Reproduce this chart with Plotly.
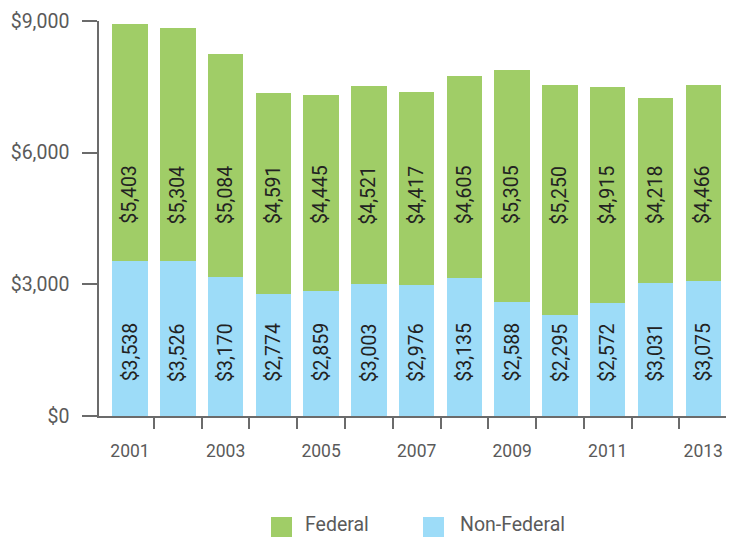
import plotly.graph_objects as go

years = list(range(2001, 2014))
federal = [5403, 5304, 5084, 4591, 4445, 4521, 4417, 4605, 5305, 5250, 4915, 4218, 4466]
non_federal = [3538, 3526, 3170, 2774, 2859, 3003, 2976, 3135, 2588, 2295, 2572, 3031, 3075]
tick_years = [2001, 2003, 2005, 2007, 2009, 2011, 2013]
y_ticks = [0, 3000, 6000, 9000]

GREEN = "#a0cd67"
BLUE = "#9ddcf8"
FONT = "Roboto, Liberation Sans, Arial, sans-serif"
AXIS = "#6b6b6b"
LABEL = "#5a5a5a"

fig = go.Figure()
fig.add_bar(x=years, y=non_federal, name="Non-Federal", marker=dict(color=BLUE, line=dict(width=0)),
            width=0.743, showlegend=False)
fig.add_bar(x=years, y=federal, name="Federal", marker=dict(color=GREEN, line=dict(width=0)),
            width=0.743, showlegend=False)

annotations = []
for yr, nf, f in zip(years, non_federal, federal):
    annotations.append(dict(x=yr, y=1450, text=f"${nf:,}", textangle=-90, showarrow=False,
                            xref="x", yref="y", font=dict(family=FONT, size=19.5, color="#222222")))
    annotations.append(dict(x=yr, y=5040, text=f"${f:,}", textangle=-90, showarrow=False,
                            xref="x", yref="y", font=dict(family=FONT, size=19.5, color="#222222")))

# legend (drawn manually to match large square swatches); positions relative to plot area
def px_x(p):
    return (p - 99) / 627.0

def px_y(p):
    return (416 - p) / 395.0

shapes = []
legend_items = [("Federal", GREEN, 271, 303), ("Non-Federal", BLUE, 423, 458)]
for name, col, sx, tx in legend_items:
    shapes.append(dict(type="rect", xref="paper", yref="paper", x0=px_x(sx), x1=px_x(sx + 21),
                       y0=px_y(517), y1=px_y(538), fillcolor=col, line=dict(width=0)))
    annotations.append(dict(x=px_x(tx), y=px_y(524), xref="paper", yref="paper", text=name,
                            showarrow=False, xanchor="left", yanchor="middle",
                            font=dict(family=FONT, size=19.5, color=LABEL)))

fig.update_layout(
    width=738, height=537,
    margin=dict(l=91, r=20, t=13, b=129, autoexpand=False),
    paper_bgcolor="white", plot_bgcolor="white",
    barmode="stack", bargap=0,
    showlegend=False,
    annotations=annotations, shapes=shapes,
    font=dict(family=FONT, color=LABEL),
)
fig.update_xaxes(
    range=[2000.351, 2013.476], showgrid=False, zeroline=False, automargin=False,
    showline=True, linecolor=AXIS, linewidth=1.5,
    tickmode="array", tickvals=tick_years, ticktext=[str(y) for y in tick_years],
    ticks="outside", ticklen=0, tickcolor="rgba(0,0,0,0)",
    ticklabelstandoff=18,
    tickfont=dict(family=FONT, size=17.5, color=LABEL),
    minor=dict(tickmode="array", tickvals=[y + 0.5 for y in years[:-1]],
               ticks="outside", ticklen=11, tickcolor=AXIS, tickwidth=1.5, showgrid=False),
)
fig.update_yaxes(
    range=[0, 9000], showgrid=False, zeroline=False, automargin=False,
    showline=True, linecolor=AXIS, linewidth=1.5,
    tickmode="array", tickvals=y_ticks, ticktext=[f"${v:,}" for v in y_ticks],
    ticks="outside", ticklen=15, tickcolor=AXIS, tickwidth=1.5,
    ticklabelstandoff=9,
    tickfont=dict(family=FONT, size=19.5, color=LABEL),
)

fig.write_html("out.html")
